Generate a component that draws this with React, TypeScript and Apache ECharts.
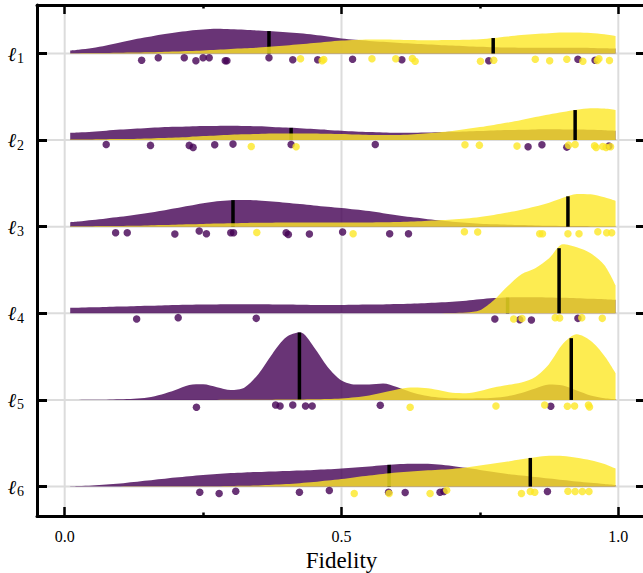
import React, { useEffect, useRef } from "react";
import * as echarts from "echarts";

const ROWS = [1, 2, 3, 4, 5, 6];
const X_TICKS = [0, 0.5, 1.0];
const X_MINOR_TICKS = [0.25, 0.75];
const X_TICK_LABELS = ["0.0", "0.5", "1.0"];

// evaluation grid of the density curves (fidelity)
const X_GRID = [0.01, 0.025, 0.05, 0.075, 0.1, 0.125, 0.15, 0.175, 0.2, 0.225, 0.25, 0.275, 0.3, 0.325, 0.35, 0.375, 0.4, 0.425, 0.45, 0.475, 0.5, 0.525, 0.55, 0.575, 0.6, 0.625, 0.65, 0.675, 0.7, 0.725, 0.75, 0.775, 0.8, 0.825, 0.85, 0.875, 0.9, 0.925, 0.95, 0.975, 0.995];

// density (arbitrary units) of the purple group, one row per layer
const PURPLE_D1 = [3, 3.8, 5.5, 8, 11, 14, 16.5, 19, 21, 22.8, 24, 24.7, 24.3, 23.8, 23, 22.2, 21.3, 20.2, 18.8, 17, 15, 13.7, 12.6, 11.7, 10.8, 10, 9.2, 8.5, 7.9, 7.3, 6.8, 6.3, 6, 5.8, 5.7, 5.7, 5.7, 5.7, 5.6, 5.3, 5];
const PURPLE_D2 = [7.3, 7.6, 8.3, 9.4, 10.5, 11.4, 12.2, 12.8, 13.3, 13.7, 14, 14.2, 14.3, 14.1, 13.8, 13.2, 12.5, 11.8, 11, 10.2, 9.4, 8.6, 8, 7.6, 7.4, 7.4, 7.6, 7.9, 8.3, 8.7, 9.1, 9.6, 10, 10.4, 10.7, 10.8, 10.7, 10.5, 10.3, 9.9, 9.4];
const PURPLE_D3 = [4.5, 5.2, 6.7, 8.3, 10, 11.8, 13.7, 16, 18.5, 21, 23.5, 25.5, 26.5, 26.7, 26.2, 25.2, 24, 22.7, 21.3, 20, 18.7, 17.2, 15.6, 13.5, 11.5, 9.7, 8, 6.4, 5, 3.9, 3, 2.4, 2, 1.6, 1.3, 1, 0.8, 0.65, 0.5, 0.45, 0.4];
const PURPLE_D4 = [5.5, 5.7, 6, 6.3, 6.7, 7.1, 7.5, 7.9, 8.3, 8.5, 8.7, 8.9, 9, 9, 9, 8.9, 8.7, 8.5, 8.3, 8.3, 8.3, 8.5, 8.7, 8.9, 9.2, 9.6, 10, 10.7, 11.5, 12.6, 14, 15.2, 15.8, 16, 16, 15.8, 15.5, 15, 14.5, 14, 13.5];
const PURPLE_D5 = [0, 0, 0.1, 0.3, 0.6, 1.2, 2.5, 5.5, 10, 15, 15.7, 12.8, 10, 12.5, 26, 46, 62.5, 67.5, 53, 33, 19.5, 15.5, 15.5, 16.5, 13, 8, 4.5, 2.5, 1.6, 1.4, 1.6, 2.3, 3.8, 7, 11.5, 15.5, 14.5, 9.5, 4.5, 1.8, 0.8];
const PURPLE_D6 = [0.2, 0.5, 1, 2, 3, 4.5, 6, 7.5, 9, 10.3, 11.5, 12.6, 13.5, 14.1, 14.6, 15.1, 15.6, 16.1, 16.6, 17.2, 18, 19, 20.1, 21.3, 22.2, 22.7, 22.7, 22, 20.6, 18.7, 16.6, 14.5, 12.6, 11, 9.5, 8, 6.5, 5, 3.7, 2.5, 1.5];

// density (arbitrary units) of the yellow group
const YELLOW_D1 = [0.3, 0.35, 0.45, 0.6, 0.8, 1, 1.3, 1.6, 2, 2.5, 3, 3.7, 4.5, 5.2, 6, 6.9, 8, 9.2, 10.5, 11.8, 13, 13.6, 14, 14, 13.8, 13.5, 13.3, 13.3, 13.4, 13.7, 14.3, 15.5, 17, 18.4, 19.5, 20.3, 20.9, 21, 20.5, 19.2, 17.5];
const YELLOW_D2 = [0.5, 0.55, 0.7, 0.85, 1, 1.2, 1.5, 2, 2.5, 3.2, 4, 4.7, 5.3, 5.8, 6.2, 6.5, 6.7, 6.7, 6.6, 6.3, 6, 5.5, 5.1, 5, 5.1, 5.6, 6.5, 7.6, 9, 11, 13, 15.2, 17.5, 20.2, 23, 25.6, 28, 30.3, 31.8, 31.5, 30];
const YELLOW_D3 = [0.3, 0.35, 0.45, 0.6, 0.8, 1, 1.3, 1.6, 2, 2.4, 2.8, 3.1, 3.4, 3.7, 3.9, 4, 4.1, 4.1, 4.1, 4.1, 4.1, 4.1, 4.2, 4.4, 4.7, 5.2, 5.8, 6.5, 7.3, 8.3, 9.8, 11.8, 14.2, 17, 20.2, 24, 29, 32.8, 32.5, 29.5, 26];
const YELLOW_D4 = [0, 0, 0, 0, 0, 0, 0, 0, 0, 0, 0, 0, 0, 0, 0, 0, 0, 0, 0, 0, 0, 0, 0, 0, 0, 0, 0, 0.1, 0.3, 0.8, 3, 13, 27, 39, 45, 55, 69, 66, 60, 48, 28];
const YELLOW_D5 = [0, 0, 0, 0, 0, 0, 0, 0, 0, 0, 0, 0, 0.1, 0.15, 0.2, 0.3, 0.4, 0.5, 0.7, 1, 1.5, 2.6, 4.5, 7.5, 10.5, 12.5, 12, 10, 7.2, 6.8, 9, 12.5, 15, 17.5, 23, 36, 56, 65.5, 59, 44, 27];
const YELLOW_D6 = [0.1, 0.1, 0.1, 0.15, 0.15, 0.2, 0.2, 0.25, 0.3, 0.3, 0.3, 0.4, 0.6, 0.8, 1.1, 1.7, 2.5, 3.4, 4.5, 6, 7.5, 9.3, 11, 12.6, 14, 15.1, 16, 16.8, 17.6, 19, 21, 23, 25, 27.3, 29.3, 30.7, 30.5, 28.8, 26.3, 22.5, 18];

const PURPLE_DENSITY = [PURPLE_D1, PURPLE_D2, PURPLE_D3, PURPLE_D4, PURPLE_D5, PURPLE_D6];
const YELLOW_DENSITY = [YELLOW_D1, YELLOW_D2, YELLOW_D3, YELLOW_D4, YELLOW_D5, YELLOW_D6];

const PURPLE_MEDIAN = [0.369, 0.409, 0.304, 0.8, 0.424, 0.586];
const YELLOW_MEDIAN = [0.774, 0.922, 0.909, 0.893, 0.915, 0.841];

// observations: [fidelity, vertical jitter (row units)]
const PURPLE_P1 = [[0.139, 0.077], [0.169, 0.05], [0.216, 0.05], [0.237, 0.084], [0.25, 0.05], [0.261, 0.05], [0.29, 0.084], [0.293, 0.084], [0.369, 0.05], [0.412, 0.073], [0.457, 0.073], [0.52, 0.066], [0.609, 0.073], [0.766, 0.084], [0.927, 0.066], [0.958, 0.077]];
const PURPLE_P2 = [[0.075, 0.05], [0.155, 0.061], [0.225, 0.061], [0.232, 0.084], [0.271, 0.054], [0.304, 0.046], [0.409, 0.05], [0.561, 0.05], [0.837, 0.077], [0.862, 0.054], [0.907, 0.081], [0.983, 0.069]];
const PURPLE_P3 = [[0.092, 0.069], [0.113, 0.069], [0.199, 0.084], [0.243, 0.05], [0.256, 0.081], [0.3, 0.069], [0.305, 0.069], [0.4, 0.069], [0.404, 0.089], [0.442, 0.084], [0.502, 0.061], [0.587, 0.081], [0.621, 0.081]];
const PURPLE_P4 = [[0.13, 0.066], [0.205, 0.05], [0.346, 0.058], [0.777, 0.066], [0.822, 0.073], [0.843, 0.077], [0.927, 0.058]];
const PURPLE_P5 = [[0.238, 0.084], [0.381, 0.058], [0.389, 0.069], [0.412, 0.058], [0.435, 0.069], [0.447, 0.069], [0.57, 0.061], [0.878, 0.073]];
const PURPLE_P6 = [[0.244, 0.066], [0.279, 0.081], [0.309, 0.054], [0.424, 0.066], [0.478, 0.046], [0.585, 0.066], [0.615, 0.069], [0.678, 0.066], [0.685, 0.058], [0.872, 0.058]];

const YELLOW_P1 = [[0.426, 0.061], [0.465, 0.084], [0.468, 0.069], [0.555, 0.061], [0.598, 0.061], [0.628, 0.058], [0.633, 0.089], [0.751, 0.089], [0.775, 0.077], [0.85, 0.066], [0.876, 0.084], [0.907, 0.066], [0.936, 0.089], [0.962, 0.081], [0.965, 0.061], [0.984, 0.081]];
const YELLOW_P2 = [[0.337, 0.073], [0.418, 0.077], [0.723, 0.054], [0.749, 0.058], [0.817, 0.069], [0.91, 0.058], [0.922, 0.05], [0.957, 0.066], [0.96, 0.084], [0.972, 0.073], [0.978, 0.084], [0.986, 0.077]];
const YELLOW_P3 = [[0.347, 0.066], [0.521, 0.081], [0.722, 0.058], [0.746, 0.061], [0.858, 0.081], [0.863, 0.081], [0.909, 0.081], [0.929, 0.081], [0.963, 0.058], [0.979, 0.069], [0.988, 0.069]];
const YELLOW_P4 = [[0.811, 0.066], [0.826, 0.061], [0.886, 0.05], [0.894, 0.054], [0.934, 0.05], [0.971, 0.058]];
const YELLOW_P5 = [[0.624, 0.084], [0.779, 0.069], [0.867, 0.058], [0.908, 0.073], [0.921, 0.069], [0.946, 0.058], [0.948, 0.081]];
const YELLOW_P6 = [[0.523, 0.081], [0.586, 0.081], [0.66, 0.081], [0.69, 0.043], [0.825, 0.081], [0.841, 0.058], [0.849, 0.066], [0.909, 0.054], [0.922, 0.058], [0.935, 0.058], [0.947, 0.058]];

const PURPLE_POINTS = [PURPLE_P1, PURPLE_P2, PURPLE_P3, PURPLE_P4, PURPLE_P5, PURPLE_P6];
const YELLOW_POINTS = [YELLOW_P1, YELLOW_P2, YELLOW_P3, YELLOW_P4, YELLOW_P5, YELLOW_P6];

const PURPLE = "#440154";
const YELLOW = "#fde725";
const DENSITY_SCALE = 0.01156; // row units per density unit
const X_MIN = -0.05;
const X_MAX = 1.05;
const Y_MIN = 0.44;
const Y_MAX = 6.34;
const SERIF = "Liberation Serif";

function interp(xs: number[], ys: number[], x: number): number {
  if (x <= xs[0]) return ys[0];
  for (let i = 1; i < xs.length; i++) {
    if (x <= xs[i]) {
      const t = (x - xs[i - 1]) / (xs[i] - xs[i - 1]);
      return ys[i - 1] + t * (ys[i] - ys[i - 1]);
    }
  }
  return ys[ys.length - 1];
}

function areaSeries(dens: number[][], color: string) {
  return dens.map((d, i) => ({
    type: "line",
    xAxisIndex: 0,
    yAxisIndex: 0,
    data: X_GRID.map((x, k) => [x, ROWS[i] - d[k] * DENSITY_SCALE]),
    smooth: 0.3,
    showSymbol: false,
    symbol: "none",
    lineStyle: { width: 0, opacity: 0 },
    areaStyle: { color, opacity: 0.8, origin: ROWS[i] },
    silent: true,
    z: 3,
  }));
}

function medianSeries(medians: number[], dens: number[][]) {
  return {
    type: "custom",
    xAxisIndex: 0,
    yAxisIndex: 0,
    data: medians.map((m, i) => [m, ROWS[i], interp(X_GRID, dens[i], m)]),
    renderItem: (_p: any, api: any) => {
      const m = api.value(0);
      const r = api.value(1);
      const h = api.value(2);
      const a = api.coord([m, r]);
      const b = api.coord([m, r - h * DENSITY_SCALE]);
      return {
        type: "line",
        shape: { x1: a[0], y1: a[1], x2: b[0], y2: b[1] },
        style: { stroke: "#000", lineWidth: 3.5 },
      };
    },
    silent: true,
    z: 3,
  };
}

function pointSeries(points: number[][][], color: string) {
  const data: number[][] = [];
  points.forEach((row, i) => row.forEach((p) => data.push([p[0], ROWS[i] + p[1]])));
  return {
    type: "scatter",
    xAxisIndex: 0,
    yAxisIndex: 0,
    data,
    symbolSize: 7.5,
    itemStyle: { color, opacity: 0.8 },
    silent: true,
    z: 4,
  };
}

export default function App() {
  const ref = useRef<HTMLDivElement>(null);
  useEffect(() => {
    if (!ref.current) return;
    const chart = echarts.init(ref.current, null, { renderer: "svg" });
    const gridLineStyle = { stroke: "#dcdcdc", lineWidth: 2 };
    const xAxisBase = {
      type: "value",
      min: X_MIN,
      max: X_MAX,
      gridIndex: 0,
      splitLine: { show: false },
      z: 10,
    };
    const yAxisBase = {
      type: "value",
      min: Y_MIN,
      max: Y_MAX,
      inverse: true,
      gridIndex: 0,
      splitLine: { show: false },
      z: 10,
    };
    const option: any = {
      animation: false,
      textStyle: { fontFamily: SERIF },
      grid: { left: 37, top: 5, width: 609, height: 511, containLabel: false, outerBoundsMode: "none" },
      xAxis: [
        {
          ...xAxisBase,
          position: "bottom",
          axisLine: { show: true, onZero: false, lineStyle: { color: "#000", width: 3 } },
          axisTick: { show: true, inside: true, length: 9, lineStyle: { color: "#000", width: 2.5 }, customValues: X_TICKS },
          axisLabel: {
            show: true,
            customValues: X_TICKS,
            formatter: (v: number) => `{t|${X_TICK_LABELS[X_TICKS.indexOf(v)] ?? String(v)}}`,
            margin: 12,
            rich: {
              t: { fontFamily: SERIF, fontSize: 16, color: "#000" },
            },
          },
          name: "Fidelity",
          nameLocation: "middle",
          nameGap: 31,
          nameTextStyle: { color: "#000", fontFamily: SERIF, fontSize: 23 },
        },
        {
          ...xAxisBase,
          position: "top",
          axisLine: { show: true, onZero: false, lineStyle: { color: "#000", width: 3 } },
          axisTick: { show: true, inside: true, length: 9, lineStyle: { color: "#000", width: 2.5 }, customValues: X_TICKS },
          axisLabel: { show: false },
        },
        {
          ...xAxisBase,
          position: "bottom",
          axisLine: { show: false, onZero: false },
          axisTick: { show: true, inside: true, length: 3.5, lineStyle: { color: "#000", width: 2.5 }, customValues: X_MINOR_TICKS },
          axisLabel: { show: false },
        },
        {
          ...xAxisBase,
          position: "top",
          axisLine: { show: false, onZero: false },
          axisTick: { show: true, inside: true, length: 3.5, lineStyle: { color: "#000", width: 2.5 }, customValues: X_MINOR_TICKS },
          axisLabel: { show: false },
        },
      ],
      yAxis: [
        {
          ...yAxisBase,
          position: "left",
          axisLine: { show: true, onZero: false, lineStyle: { color: "#000", width: 3 } },
          axisTick: { show: true, inside: true, length: 10, lineStyle: { color: "#000", width: 3 }, customValues: ROWS },
          axisLabel: {
            show: true,
            customValues: ROWS,
            margin: 13,
            formatter: (v: number) => `{l|ℓ}{s|${v}}`,
            rich: {
              l: { fontFamily: "DejaVu Serif", fontStyle: "italic", fontSize: 20, color: "#000" },
              s: { fontFamily: SERIF, fontSize: 14, color: "#000", padding: [10, 0, 0, 1] },
            },
          },
        },
        {
          ...yAxisBase,
          position: "right",
          axisLine: { show: true, onZero: false, lineStyle: { color: "#000", width: 3 } },
          axisTick: { show: true, inside: true, length: 10, lineStyle: { color: "#000", width: 3 }, customValues: ROWS },
          axisLabel: { show: false },
        },
      ],
      series: [
        {
          type: "custom",
          xAxisIndex: 0,
          yAxisIndex: 0,
          data: X_TICKS.map((x) => [x, 1]),
          renderItem: (_p: any, api: any) => {
            const x = api.value(0);
            const a = api.coord([x, Y_MIN]);
            const b = api.coord([x, Y_MAX]);
            return { type: "line", shape: { x1: a[0], y1: a[1], x2: b[0], y2: b[1] }, style: gridLineStyle };
          },
          silent: true,
          z: 1,
        },
        {
          type: "custom",
          xAxisIndex: 0,
          yAxisIndex: 0,
          data: ROWS.map((r) => [0, r]),
          renderItem: (_p: any, api: any) => {
            const r = api.value(1);
            const a = api.coord([X_MIN, r]);
            const b = api.coord([X_MAX, r]);
            return { type: "line", shape: { x1: a[0], y1: a[1], x2: b[0], y2: b[1] }, style: gridLineStyle };
          },
          silent: true,
          z: 1,
        },
        ...areaSeries(PURPLE_DENSITY, PURPLE),
        medianSeries(PURPLE_MEDIAN, PURPLE_DENSITY),
        ...areaSeries(YELLOW_DENSITY, YELLOW),
        medianSeries(YELLOW_MEDIAN, YELLOW_DENSITY),
        pointSeries(PURPLE_POINTS, PURPLE),
        pointSeries(YELLOW_POINTS, YELLOW),
      ],
    };
    chart.setOption(option);
    return () => chart.dispose();
  }, []);
  return <div ref={ref} style={{ width: 643, height: 573, position: "absolute", left: 0, top: 0 }} />;
}
